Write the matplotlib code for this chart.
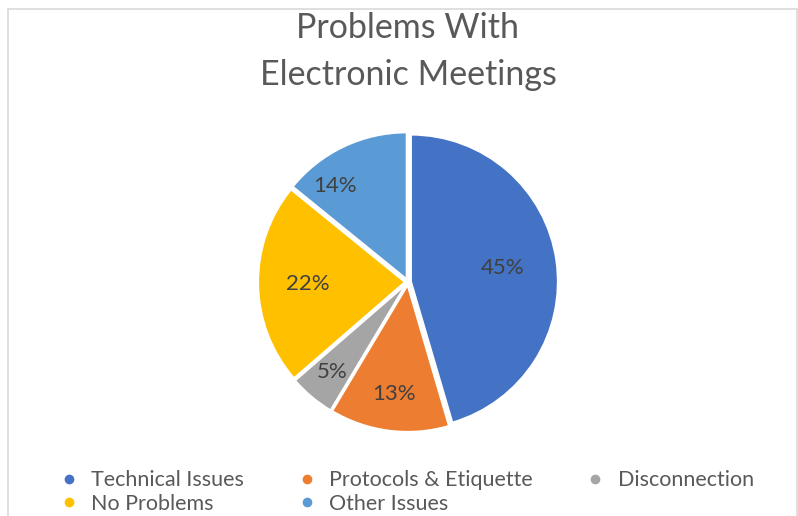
import matplotlib
matplotlib.use('Agg')
import numpy as np
import matplotlib.pyplot as plt
from matplotlib.lines import Line2D
from matplotlib.patches import Rectangle

plt.rcParams['font.family'] = ['Lato', 'DejaVu Sans']

categories = ['Technical Issues', 'Protocols & Etiquette', 'Disconnection',
              'No Problems', 'Other Issues']
values = [45, 13, 5, 22, 14]
colors = ['#4472C4', '#ED7D31', '#A5A5A5', '#FFC000', '#5B9BD5']
# label placement: distance from centre and angle nudge (degrees)
label_dist = [0.65, 0.77, 0.80, 0.68, 0.82]
label_turn = [0, 0, 0, 0, 12]

W, H = 798, 516
fig = plt.figure(figsize=(W / 100, H / 100), dpi=100)

# chart frame
fig.patches.append(Rectangle((7.5 / W, -0.1), (796.5 - 7.5) / W, 1.1 - 8.5 / H,
                             transform=fig.transFigure, fill=False,
                             edgecolor='#D9D9D9', linewidth=1.2))

fig.text(408 / W, 1 - 28 / H, 'Problems With', ha='center', va='center',
         fontsize=24.5, color='#595959')
fig.text(408 / W, 1 - 75 / H, 'Electronic Meetings', ha='center', va='center',
         fontsize=24.5, color='#595959')

cx, cy, r = 408, 282, 147
ax = fig.add_axes([(cx - r) / W, 1 - (cy + r) / H, 2 * r / W, 2 * r / H])
wedges, texts, autotexts = ax.pie(values, colors=colors, startangle=90,
                                  counterclock=False, explode=[0.02] * 5,
                                  autopct='%1.0f%%',
                                  wedgeprops=dict(edgecolor='white', linewidth=1.5),
                                  textprops=dict(fontsize=16, color='#404040'))
for w, t, d, turn in zip(wedges, autotexts, label_dist, label_turn):
    ang = np.deg2rad((w.theta1 + w.theta2) / 2 + turn)
    t.set_position((d * np.cos(ang), d * np.sin(ang)))
ax.set_xlim(-1, 1)
ax.set_ylim(-1, 1)
ax.set_aspect('equal')
ax.axis('off')

order = [0, 3, 1, 4, 2]
handles = [Line2D([], [], linestyle='none', marker='o', markersize=8,
                  markerfacecolor=colors[i], markeredgecolor='white')
           for i in order]
labels = [categories[i] for i in order]
fig.legend(handles, labels, ncol=3, loc='center', bbox_to_anchor=(406 / W, 1 - 492 / H),
           frameon=False, fontsize=15.5, labelcolor='#595959', handletextpad=0.55,
           columnspacing=2.4, labelspacing=0.15, handlelength=1.0)

fig.savefig('out.png', dpi=100)
